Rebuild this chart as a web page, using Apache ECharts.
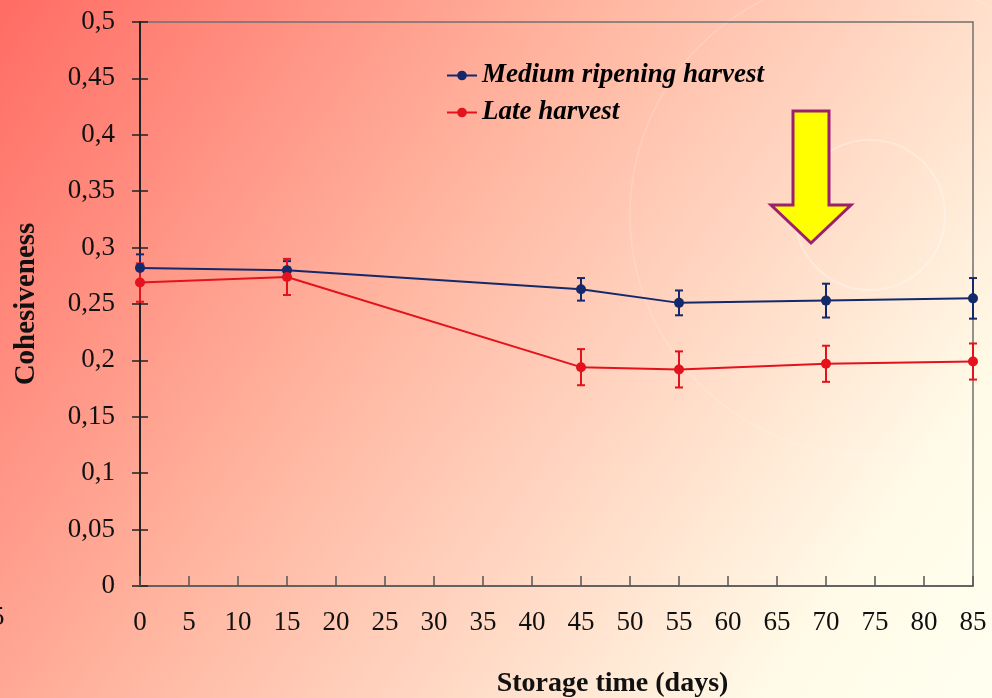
<!DOCTYPE html>
<html>
<head>
    <meta charset="utf-8">
    <title>Cohesiveness vs storage time</title>
    <script src="https://cdn.jsdelivr.net/npm/echarts@6/dist/echarts.min.js"></script>
    <style>
        html, body { margin: 0; padding: 0; }
    </style>
</head>
<body>
    <div id="main" style="width: 992px; height: 698px;"></div>

    <script>
        // storage time (days)
        var days = [0, 15, 45, 55, 70, 85];
        // cohesiveness, medium ripening harvest
        var medium = [0.282, 0.280, 0.263, 0.251, 0.253, 0.255];
        var mediumErr = [0.012, 0.008, 0.010, 0.011, 0.015, 0.018];
        // cohesiveness, late harvest
        var late = [0.269, 0.274, 0.194, 0.192, 0.197, 0.199];
        var lateErr = [0.017, 0.016, 0.016, 0.016, 0.016, 0.016];

        var serif = 'Liberation Serif, DejaVu Serif, serif';
        var blue = '#13296b';
        var red = '#e3121c';

        function pairs(ys) {
            var out = [];
            for (var i = 0; i < days.length; i++) out.push([days[i], ys[i]]);
            return out;
        }

        function errData(ys, es) {
            var out = [];
            for (var i = 0; i < days.length; i++) out.push([days[i], ys[i] - es[i], ys[i] + es[i]]);
            return out;
        }

        // vertical error bar with caps
        function errRender(color) {
            return function (params, api) {
                var lo = api.coord([api.value(0), api.value(1)]);
                var hi = api.coord([api.value(0), api.value(2)]);
                var w = 4;
                var st = { stroke: color, lineWidth: 2 };
                return {
                    type: 'group',
                    children: [
                        { type: 'line', shape: { x1: lo[0], y1: lo[1], x2: hi[0], y2: hi[1] }, style: st },
                        { type: 'line', shape: { x1: lo[0] - w, y1: lo[1], x2: lo[0] + w, y2: lo[1] }, style: st },
                        { type: 'line', shape: { x1: hi[0] - w, y1: hi[1], x2: hi[0] + w, y2: hi[1] }, style: st }
                    ]
                };
            };
        }

        var chart = echarts.init(document.getElementById('main'));

        var option = {
            backgroundColor: {
                type: 'linear', x: 0, y: 0, x2: 1, y2: 1,
                colorStops: [
                    { offset: 0, color: '#ff6c64' },
                    { offset: 0.4, color: '#ffb5a0' },
                    { offset: 0.7, color: '#ffe4d0' },
                    { offset: 0.85, color: '#fffbe8' },
                    { offset: 1, color: '#fffff0' }
                ]
            },
            animation: false,
            graphic: [
                { type: 'circle', shape: { cx: 870, cy: 215, r: 75 }, style: { fill: 'none', stroke: 'rgba(255,255,255,0.3)', lineWidth: 2 }, z: -1 },
                { type: 'circle', shape: { cx: 870, cy: 215, r: 240 }, style: { fill: 'none', stroke: 'rgba(255,255,255,0.18)', lineWidth: 1.5 }, z: -1 },
                { type: 'text', left: -9, top: 604, style: { text: '5', font: '27px ' + serif, fill: '#111' } },
                {
                    type: 'polygon', z: 100,
                    shape: { points: [[793, 111], [829, 111], [829, 205], [851, 205], [811, 243], [771, 205], [793, 205]] },
                    style: { fill: '#ffff00', stroke: '#9c1f70', lineWidth: 3 }
                }
            ],
            legend: {
                left: 441,
                top: 57,
                orient: 'vertical',
                itemGap: 10,
                itemWidth: 30,
                itemHeight: 12,
                data: ['Medium ripening harvest', 'Late harvest'],
                textStyle: { fontFamily: serif, fontSize: 27, fontWeight: 'bold', fontStyle: 'italic', color: '#000' }
            },
            grid: {
                left: 140, right: 19, top: 22, bottom: 112,
                outerBoundsMode: 'none',
                containLabel: false,
                show: true, borderColor: '#707070', borderWidth: 1.5
            },
            xAxis: {
                type: 'value',
                min: 0, max: 85, interval: 5,
                name: 'Storage time (days)',
                nameLocation: 'middle',
                nameGap: 84,
                nameTextStyle: { fontFamily: serif, fontSize: 28, fontWeight: 'bold', color: '#111', padding: [0, 0, 0, 112] },
                axisLine: { onZero: false, lineStyle: { color: '#555', width: 1.5 } },
                axisTick: { inside: true, length: 10, lineStyle: { color: '#555', width: 1.5 } },
                axisLabel: { margin: 23, fontFamily: serif, fontSize: 27, color: '#111' },
                splitLine: { show: false }
            },
            yAxis: [{
                type: 'value',
                min: 0, max: 0.5, interval: 0.05,
                name: 'Cohesiveness',
                nameLocation: 'middle',
                nameGap: 99,
                nameTextStyle: { fontFamily: serif, fontSize: 29, fontWeight: 'bold', color: '#111' },
                axisLine: { lineStyle: { color: '#222', width: 2 } },
                axisTick: { length: 8, lineStyle: { color: '#222', width: 1.5 } },
                axisLabel: {
                    margin: 25, fontFamily: serif, fontSize: 27, color: '#111',
                    formatter: function (v) { return String(+v.toFixed(2)).replace('.', ','); }
                },
                splitLine: { show: false }
            }, {
                type: 'value',
                position: 'left',
                min: 0, max: 0.5, interval: 0.05,
                axisLine: { show: false },
                axisTick: { inside: true, length: 8, lineStyle: { color: '#222', width: 1.5 } },
                axisLabel: { show: false },
                splitLine: { show: false }
            }],
            series: [{
                name: 'err-medium',
                type: 'custom',
                renderItem: errRender(blue),
                data: errData(medium, mediumErr),
                encode: { x: 0, y: [1, 2] },
                z: 3
            }, {
                name: 'err-late',
                type: 'custom',
                renderItem: errRender(red),
                data: errData(late, lateErr),
                encode: { x: 0, y: [1, 2] },
                z: 4
            }, {
                name: 'Medium ripening harvest',
                type: 'line',
                data: pairs(medium),
                symbol: 'circle',
                symbolSize: 10,
                lineStyle: { width: 2, color: blue },
                itemStyle: { color: blue },
                z: 5
            }, {
                name: 'Late harvest',
                type: 'line',
                data: pairs(late),
                symbol: 'circle',
                symbolSize: 10,
                lineStyle: { width: 2, color: red },
                itemStyle: { color: red },
                z: 6
            }]
        };

        chart.setOption(option);
    </script>
</body>
</html>
